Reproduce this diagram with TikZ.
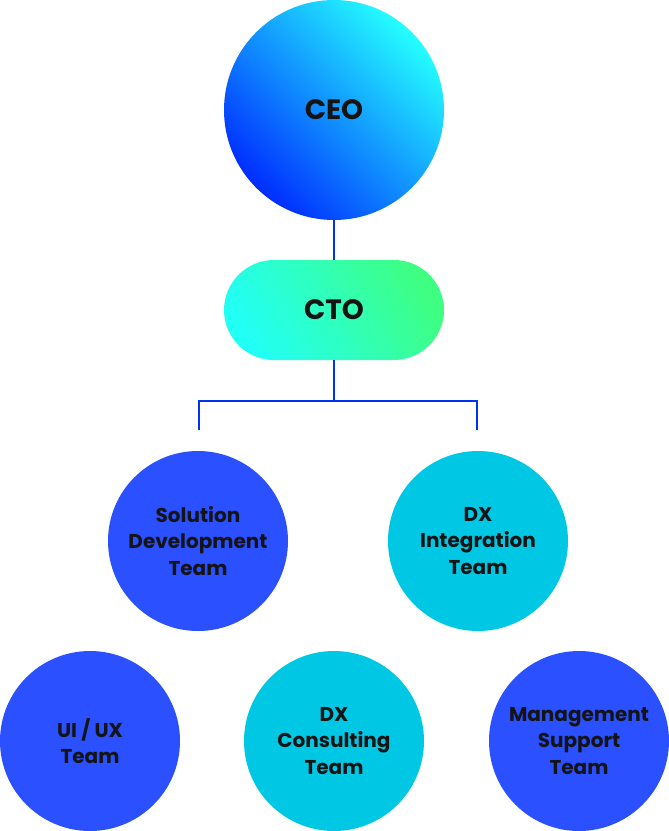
\documentclass[tikz,border=0pt]{standalone}
\usepackage{fontspec}
\setmainfont{Poppins}
\usepackage{xcolor}
\definecolor{ceoblue}{RGB}{0, 45, 255}
\definecolor{ceomid}{RGB}{0, 165, 255}
\definecolor{ceocyan}{RGB}{36, 255, 255}
\definecolor{ctocyan}{RGB}{34, 255, 245}
\definecolor{ctogreen}{RGB}{62, 255, 130}
\definecolor{teamblue}{RGB}{42, 80, 255}
\definecolor{teamcyan}{RGB}{0, 200, 228}
\definecolor{linkblue}{RGB}{0, 51, 238}
\definecolor{textdark}{RGB}{20, 20, 20}

\begin{document}
\begin{tikzpicture}[x=1pt, y=-1pt,
    team/.style={circle, minimum size=180pt, inner sep=0pt, align=center,
      text=textdark, font=\bfseries\fontsize{20}{26.5}\selectfont},
    head/.style={inner sep=0pt, text=textdark, font=\bfseries\fontsize{28}{32}\selectfont},
    link/.style={draw=linkblue, line width=2.2pt}]
    \useasboundingbox (0,0) rectangle (669,831);

    % CEO - gradient circle on top
    \node[head, circle, minimum size=220pt,
      bottom color=ceoblue, middle color=ceomid, top color=ceocyan, shading angle=-45] (ceo) at (334,110) {CEO};

    % CTO - rounded bar
    \node[head, rectangle, rounded corners=50pt, minimum width=220pt, minimum height=100pt,
      bottom color=ctocyan, top color=ctogreen, shading angle=-60] (cto) at (334,310) {CTO};

    % second row
    \node[team, fill=teamblue] (soldev) at (198,541) {Solution\\Development\\Team};
    \node[team, fill=teamcyan] (dxint) at (478,541) {DX\\Integration\\Team};

    % third row
    \node[team, fill=teamblue] (uiux) at (90,741) {UI / UX\\Team};
    \node[team, fill=teamcyan] (dxcons) at (334,741) {DX\\Consulting\\Team};
    \node[team, fill=teamblue] (mgmt) at (579,741) {Management\\Support\\Team};

    % connectors
    \coordinate (split) at (334,401);
    \coordinate (soldevtop) at (199,430);
    \coordinate (dxinttop) at (477,430);
    \draw[link] (ceo.south) -- (cto.north);
    \draw[link] (cto.south) -- (split);
    \draw[link] (soldevtop) |- (split) -| (dxinttop);
\end{tikzpicture}
\end{document}
